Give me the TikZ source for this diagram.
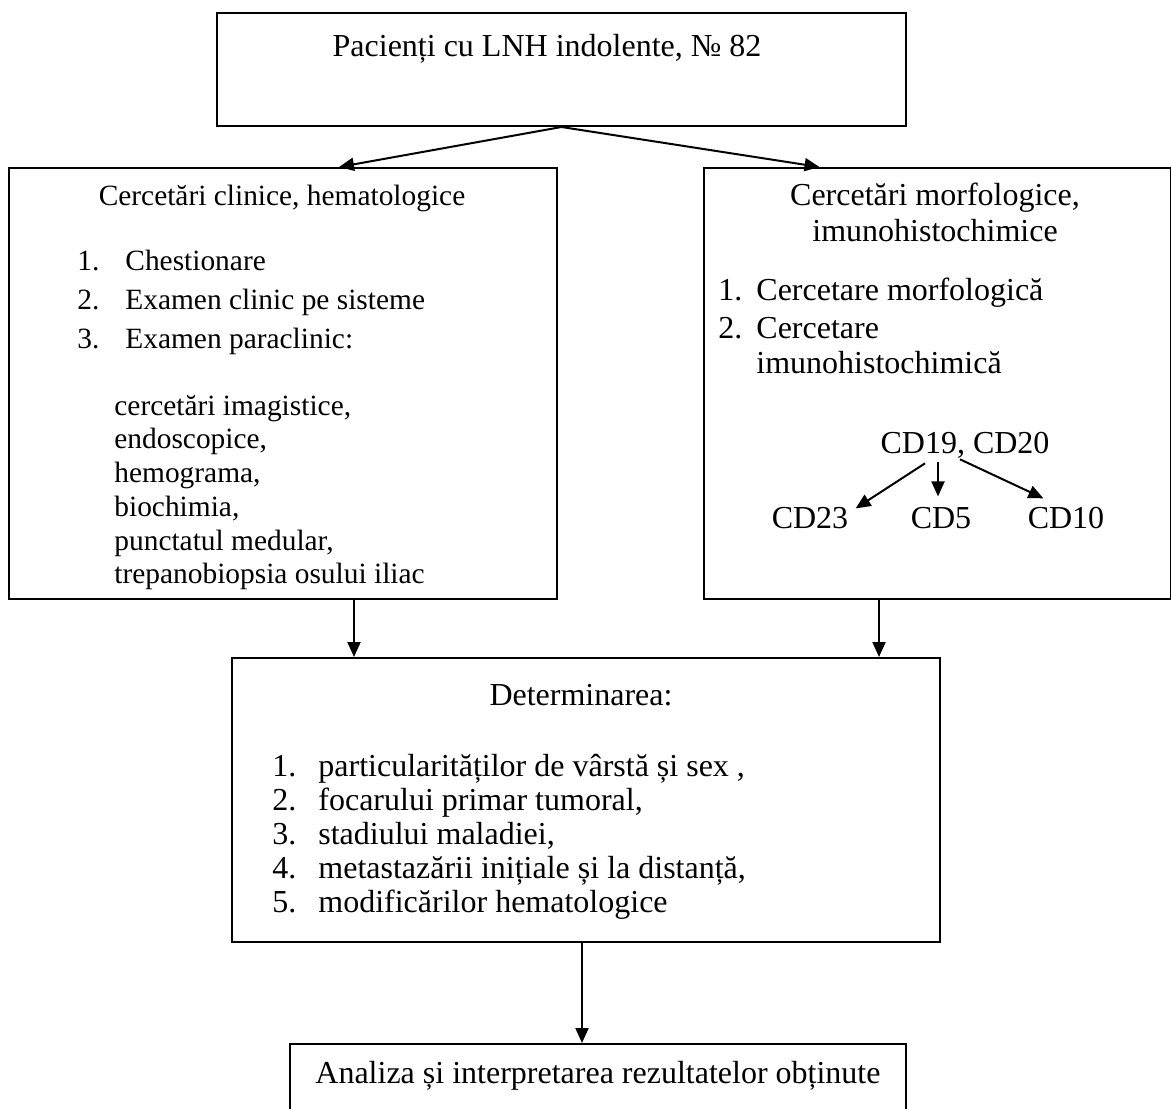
\documentclass[tikz,border=0pt]{standalone}
\usepackage{fontspec}
\setmainfont{Liberation Serif}
\usetikzlibrary{arrows.meta,positioning,calc}

\begin{document}
\begin{tikzpicture}[x=0.5pt,y=-0.5pt,
    box/.style={draw, line width=1pt, inner sep=0pt, anchor=north west},
    txt/.style={inner sep=0pt, anchor=base west, font=\fontsize{14.7}{17}\selectfont},
    ctxt/.style={txt, anchor=base},
    btxt/.style={txt, font=\fontsize{16}{19}\selectfont},
    bctxt/.style={btxt, anchor=base},
    arr/.style={-{Triangle[length=7.5pt,width=6.5pt]}, line width=1pt}]
    \useasboundingbox (0,0) rectangle (1171,1108);

    % casete
    \node[box, minimum width=344.5pt, minimum height=56.5pt] (top) at (216,12) {};
    \node[box, minimum width=274pt, minimum height=215.5pt] (lbox) at (8,167) {};
    \node[box, minimum width=233.5pt, minimum height=215.5pt] (rbox) at (703,167) {};
    \node[box, minimum width=354pt, minimum height=142pt] (mbox) at (231,657) {};
    \node[box, minimum width=308pt, minimum height=50pt] (bbox) at (289,1043) {};

    % caseta de sus
    \node[bctxt] (pac) at (547,56) {Pacienți cu LNH indolente, № 82};

    % caseta stanga
    \node[ctxt] (clin) at (282,205) {Cercetări clinice, hematologice};
    \node[txt] (n1) at (77,270) {1.}; \node[txt] (chest) at (125,270) {Chestionare};
    \node[txt] (n2) at (77,309) {2.}; \node[txt] (exam) at (125,309) {Examen clinic pe sisteme};
    \node[txt] (n3) at (77,348) {3.}; \node[txt] (para) at (125,348) {Examen paraclinic:};
    \node[txt] (s1) at (114,415) {cercetări imagistice,};
    \node[txt] (s2) at (114,448) {endoscopice,};
    \node[txt] (s3) at (114,482) {hemograma,};
    \node[txt] (s4) at (114,516) {biochimia,};
    \node[txt] (s5) at (114,550) {punctatul medular,};
    \node[txt] (s6) at (114,583) {trepanobiopsia osului iliac};

    % caseta dreapta
    \node[bctxt] (morf1) at (935,205) {Cercetări morfologice,};
    \node[bctxt] (morf2) at (935,241) {imunohistochimice};
    \node[btxt] (m1) at (718,300) {1.}; \node[btxt] (cm) at (756,300) {Cercetare morfologică};
    \node[btxt] (m2) at (718,338) {2.}; \node[btxt] (ci) at (756,338) {Cercetare};
    \node[btxt] (ci2) at (756,373) {imunohistochimică};
    \node[bctxt] (cdtop) at (965,453) {CD19, CD20};
    \node[bctxt] (cd23) at (810,528) {CD23};
    \node[bctxt] (cd5) at (941,528) {CD5};
    \node[bctxt] (cd10) at (1066,528) {CD10};
    \draw[arr] ($(cdtop.south)+(-40,5)$) -- ($(cd23.north east)+(7,2)$);
    \draw[arr] ($(cdtop.south)+(-27,4)$) -- ($(cd5.north)+(-3,-10)$);
    \draw[arr] ($(cdtop.south)+(-5,1)$) -- ($(cd10.north west)+(16,-8)$);

    % caseta din mijloc
    \node[bctxt] (det) at (581,705) {Determinarea:};
    \node[btxt] (d1) at (272,776) {1.}; \node[btxt] (v1) at (318,776) {particularităților de vârstă și sex ,};
    \node[btxt] (d2) at (272,810) {2.}; \node[btxt] (v2) at (318,810) {focarului primar tumoral,};
    \node[btxt] (d3) at (272,844) {3.}; \node[btxt] (v3) at (318,844) {stadiului maladiei,};
    \node[btxt] (d4) at (272,878) {4.}; \node[btxt] (v4) at (318,878) {metastazării inițiale și la distanță,};
    \node[btxt] (d5) at (272,912) {5.}; \node[btxt] (v5) at (318,912) {modificărilor hematologice};

    % caseta de jos
    \node[btxt] (anl) at (315,1083) {Analiza și interpretarea rezultatelor obținute};

    % sageti
    \draw[arr] (top.south) -- ($(lbox.north)+(56,0)$);
    \draw[arr] (top.south) -- ($(rbox.north)+(-118,0)$);
    \coordinate (l1) at ($(lbox.south)+(71,0)$);
    \coordinate (r1) at ($(rbox.south)+(-58.5,0)$);
    \coordinate (m1) at ($(mbox.south)+(-4,0)$);
    \draw[arr] (l1) -- (l1 |- mbox.north);
    \draw[arr] (r1) -- (r1 |- mbox.north);
    \draw[arr] (m1) -- (m1 |- bbox.north);
\end{tikzpicture}
\end{document}
